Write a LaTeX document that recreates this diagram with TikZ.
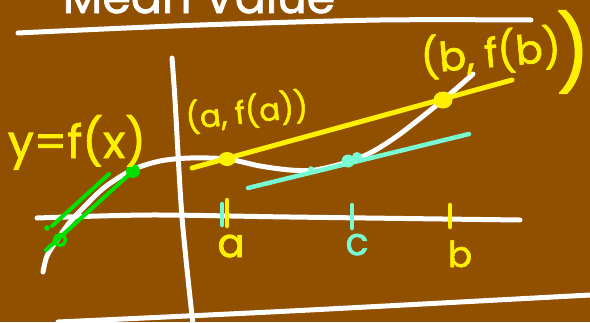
\documentclass[tikz,border=0pt]{standalone}
\usepackage{fontspec}
\setmainfont{Poppins}
\newfontfamily\hand[FakeBold=1.6]{Poppins}
\definecolor{board}{RGB}{145,79,0}
\definecolor{chalkyellow}{RGB}{255,240,0}
\definecolor{chalkgreen}{RGB}{0,225,0}
\definecolor{chalkcyan}{RGB}{120,250,210}
\begin{document}
\begin{tikzpicture}[x=1pt,y=-1pt,
  chalk/.style={line width=5pt,line cap=round,line join=round},
  whitechalk/.style={chalk,white},
  ylw/.style={chalk,chalkyellow},
  grn/.style={chalk,chalkgreen,line width=4pt},
  cyn/.style={chalk,chalkcyan,line width=4.5pt},
  lbl/.style={inner sep=0pt,anchor=base},
]
\clip (0,0) rectangle (590,322);
\fill[board] (0,0) rectangle (590,322);

% title (cut off) and underline
\node[lbl,white,font=\hand\fontsize{46}{50}\selectfont] (title) at (199,13) {Mean Value};
\draw[whitechalk] plot[smooth] coordinates {(18,33) (60,31) (200,25) (380,20) (531,20)};
% bottom line
\draw[whitechalk] plot[smooth] coordinates {(58,322) (290,311) (590,295)};

% axes
\draw[whitechalk] plot[smooth] coordinates {(37,218) (150,215) (290,217) (520,220)};
\draw[whitechalk] plot[smooth] coordinates {(172,58) (175,100) (182,217) (193,325)};

% curve
\draw[whitechalk] plot[smooth] coordinates {(43,272) (47,256) (57,240) (70,222) (86,205) (105,187) (132,170) (160,161) (190,158) (227,159) (260,166) (290,170) (315,170) (348,162) (372,152) (400,134) (443,100) (473,74)};

% points
\coordinate (A) at (227,159);
\coordinate (B) at (443,100);
\coordinate (C) at (348,161);
\coordinate (Y1) at (192,168);
\coordinate (Y2) at (512,80);
\coordinate (T1) at (248,188);
\coordinate (T2) at (469,134);

% cyan tangent
\draw[cyn] (T1) -- (T2);
\fill[chalkcyan] (C) circle[radius=6.5];
\fill[chalkcyan] (357,157) circle[radius=5];
\fill[chalkcyan] (311,169) circle[radius=2.8];

% yellow secant
\draw[ylw] (Y1) -- (Y2);
\fill[chalkyellow] (A) ellipse[x radius=8.5,y radius=7];
\fill[chalkyellow] (B) ellipse[x radius=9.5,y radius=8.5];

% green secant and tangent
\coordinate (G1) at (60,240);
\coordinate (G2) at (133,171);
\coordinate (GS) at (46,250);
\coordinate (GT1) at (52,226);
\coordinate (GT2) at (109,174);
\draw[grn] (GS) -- (G2);
\draw[grn] (GT1) -- (GT2);
\fill[chalkgreen] (47,228) circle[radius=2.8];
\draw[chalkgreen,line width=3.5pt] (G1) circle[radius=5.5];
\fill[chalkgreen] (G2) circle[radius=7];

% ticks
\coordinate (ta1) at (222,204); \coordinate (ta2) at (222,225);
\coordinate (ty1) at (227,200); \coordinate (ty2) at (227,226);
\coordinate (tc1) at (352,205); \coordinate (tc2) at (352,228);
\coordinate (tb1) at (450,205); \coordinate (tb2) at (450,227);
\draw[cyn] (ta1) -- (ta2);
\draw[ylw,line width=4.5pt] (ty1) -- (ty2);
\draw[cyn] (tc1) -- (tc2);
\draw[ylw,line width=4.5pt] (tb1) -- (tb2);

% labels
\node[lbl,chalkyellow,font=\hand\fontsize{46}{50}\selectfont] (fx) at (77,158) {y=f(x)};
\node[lbl,chalkyellow,font=\hand\fontsize{31}{35}\selectfont,rotate=6] (la) at (248,123) {(a, f(a))};
\node[lbl,chalkyellow,font=\hand\fontsize{40}{44}\selectfont,rotate=5] (lb) at (492,67) {(b, f(b)};
\node[chalkyellow,inner sep=0pt,font=\hand\fontsize{74}{78}\selectfont] (bparen) at (573,52) {)};
\node[lbl,chalkyellow,font=\hand\fontsize{40}{44}\selectfont] (xa) at (231,257) {a};
\node[lbl,chalkcyan,font=\hand\fontsize{38}{42}\selectfont] (xc) at (357,255) {c};
\node[lbl,chalkyellow,font=\hand\fontsize{36}{40}\selectfont] (xb) at (460,267) {b};
\end{tikzpicture}
\end{document}
